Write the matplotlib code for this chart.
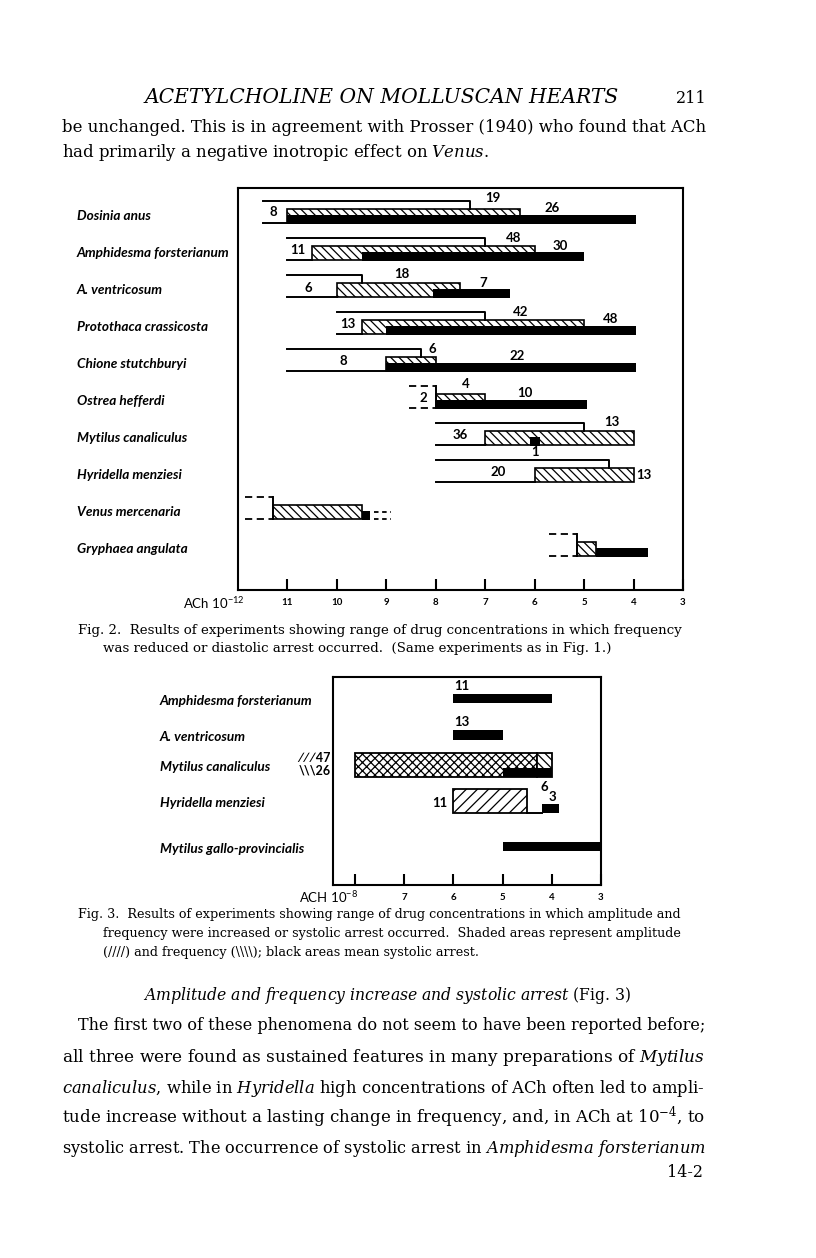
import matplotlib
matplotlib.use('Agg')
import matplotlib.pyplot as plt
from matplotlib.transforms import blended_transform_factory as blend

plt.rcParams['mathtext.fontset'] = 'custom'
plt.rcParams['mathtext.rm'] = 'DejaVu Serif'
plt.rcParams['mathtext.it'] = 'DejaVu Serif:italic'
plt.rcParams['hatch.linewidth'] = 0.9

SERIF = 'DejaVu Serif'
SANS = 'Lato'

# --- Fig. 2 : range of ACh (-log10 M), frequency reduced / diastolic arrest ---
species2 = ['Dosinia anus', 'Amphidesma forsterianum', 'A. ventricosum',
            'Protothaca crassicosta', 'Chione stutchburyi', 'Ostrea hefferdi',
            'Mytilus canaliculus', 'Hyridella menziesi', 'Venus mercenaria',
            'Gryphaea angulata']
tested_from2 = [11.5, 11.0, 11.0, 10.0, 11.0, 8.55, 8.0, 8.0, 11.85, 5.72]
dashed2 = [False, False, False, False, False, True, False, False, True, True]
freq_top2 = [7.3, 7.0, 9.5, 7.0, 8.3, None, 5.0, 4.5, None, None]
hatch2 = [(11.0, 6.3), (10.5, 6.0), (10.0, 7.5), (9.5, 5.0), (9.0, 8.0),
          (8.0, 7.0), (7.0, 4.0), (6.0, 4.0), (11.3, 9.5), (5.15, 4.75)]
black2 = [(11.0, 3.95), (9.5, 5.0), (8.05, 6.5), (9.0, 3.95), (9.0, 3.95),
          (8.0, 4.95), (6.1, 5.9), None, (9.5, 9.33), (4.75, 3.7)]
tail2 = [None, None, None, None, None, None, None, None, (9.25, 8.9), None]
counts2 = [['8', '19', '26'], ['11', '48', '30'], ['6', '18', '7'],
           ['13', '42', '48'], ['8', '6', '22'], ['2', '4', '10'],
           ['36', '13', '1'], ['20', '13'], [], []]
# where each count is written: (x in -log10 units, vertical offset in px)
count_pos2 = [[(11.29, -4), (6.84, -18), (5.64, -8)],
              [(10.79, -3), (6.43, -15), (5.48, -7)],
              [(10.58, -2), (8.68, -16), (7.04, -7)],
              [(9.77, -3), (6.29, -15), (4.47, -8)],
              [(9.87, -3), (8.07, -15), (6.35, -8)],
              [(8.26, -3), (7.40, -17), (6.19, -8)],
              [(7.51, -3), (4.43, -16), (5.99, 14)],
              [(6.74, -3), (3.80, 0)], [], []]
ticks2 = list(range(11, 2, -1))

# --- Fig. 3 : amplitude / frequency increase, systolic arrest ---
species3 = ['Amphidesma forsterianum', 'A. ventricosum', 'Mytilus canaliculus',
            'Hyridella menziesi', 'Mytilus gallo-provincialis']
both3 = [None, None, (8.0, 4.3), None, None]      # amplitude + frequency
freq3 = [None, None, (4.3, 4.0), None, None]      # frequency only
ampl3 = [None, None, None, (6.0, 4.5), None]      # amplitude only
arrest3 = [(6.0, 4.0), (6.0, 5.0), (5.0, 4.0), (4.2, 3.85), (5.0, 3.0)]
link3 = [None, None, None, (4.5, 4.2), None]
counts3 = [['11'], ['13'], [], ['11', '6', '3'], []]
count_pos3 = [[(5.84, -13)], [(5.84, -13)], [],
              [(6.28, 2), (4.15, -14), (3.98, -4)], []]
side3 = ['\u2215\u2215\u221547', '\\\\\\26']
ticks3 = list(range(8, 2, -1))

fig = plt.figure(figsize=(8.16, 12.58), dpi=100)
page = fig.add_axes([0, 0, 1, 1])
page.set_xlim(0, 816)
page.set_ylim(1258, 0)
page.axis('off')
renderer = fig.canvas.get_renderer()


def it(s):
    # *words* -> italic (mathtext)
    parts = s.split('*')
    out = ''
    for k, p in enumerate(parts):
        if k % 2 and p:
            out += r'$\mathit{' + p.replace(' ', r'\ ') + '}$'
        else:
            out += p
    return out


def line(s, x0, y, x1=None, size=12, **kw):
    t = page.text(x0, y, it(s), fontsize=size, va='baseline', ha='left',
                  family=SERIF, **kw)
    if x1 is not None:
        w = t.get_window_extent(renderer).width
        t.set_fontsize(size * (x1 - x0) / w)
    return t.get_fontsize()


# page text
line('ACETYLCHOLINE ON MOLLUSCAN HEARTS', 145, 103, 617, fontstyle='italic')
page.text(707, 103, '211', fontsize=11.5, ha='right', va='baseline', family=SERIF)
fs = line('be unchanged. This is in agreement with Prosser (1940) who found that ACh', 62, 132, 703)
line('had primarily a negative inotropic effect on *Venus*.', 62, 157, size=fs)

fc = line('Fig. 2.  Results of experiments showing range of drug concentrations in which frequency', 78, 634, 683)
line('was reduced or diastolic arrest occurred.  (Same experiments as in Fig. 1.)', 103, 652, size=fc)
fc = line('Fig. 3.  Results of experiments showing range of drug concentrations in which amplitude and', 78, 918, 683)
line('frequency were increased or systolic arrest occurred.  Shaded areas represent amplitude', 103, 937, 683)
line('(////) and frequency (\\\\\\\\); black areas mean systolic arrest.', 103, 956, size=fc)

line('*Amplitude and frequency increase and systolic arrest* (Fig. 3)', 143, 1000, 630)
line('The first two of these phenomena do not seem to have been reported before;', 78, 1030, 703)
line('all three were found as sustained features in many preparations of *Mytilus*', 62, 1062, 703)
line('*canaliculus*, while in *Hyridella* high concentrations of ACh often led to ampli-', 62, 1093, 703)
line(r'tude increase without a lasting change in frequency, and, in ACh at 10$^{\mathregular{-4}}$, to', 62, 1123, 703)
line('systolic arrest. The occurrence of systolic arrest in *Amphidesma forsterianum*', 62, 1153, 703)
page.text(703, 1177, '14-2', fontsize=11.5, ha='right', va='baseline', family=SERIF)

# ---------------- Fig. 2 ----------------
ax2 = fig.add_axes([238 / 816, 1 - 590 / 1258, 445 / 816, 402 / 1258])
ROW2 = 37.0          # px per row
H = 0.2              # half bar height (rows)
TOP = 0.4            # upper line above row centre
ax2.set_xlim(12, 3)
ax2.set_ylim((590 - 216) / ROW2, (188 - 216) / ROW2)
DASH = (0, (4, 2.5))

for i, name in enumerate(species2):
    y = i
    hs, he = hatch2[i]
    ax2.barh(y, hs - he, left=he, height=2 * H, color='white', edgecolor='black',
             hatch='\\\\\\\\', lw=1.2, zorder=2)
    if black2[i]:
        bs, be = black2[i]
        ax2.barh(y + H / 2, bs - be, left=be, height=H + 0.05, color='black', lw=0, zorder=3)
    s0 = tested_from2[i]
    if dashed2[i]:
        ax2.plot([s0, hs], [y - TOP, y - TOP], color='k', lw=1.3, ls=DASH)
        ax2.plot([s0, hs], [y + H, y + H], color='k', lw=1.3, ls=DASH)
        ax2.plot([hs, hs], [y - TOP, y + H], color='k', lw=1.4)
    else:
        t = freq_top2[i]
        ax2.plot([s0, t, t], [y - TOP, y - TOP, y - H], color='k', lw=1.4)
        ax2.plot([s0, hs], [y + H, y + H], color='k', lw=1.4)
    if tail2[i]:
        for yy in (y, y + H):
            ax2.plot(tail2[i], [yy, yy], color='k', lw=1.3, ls=(0, (2.5, 2)))
    for txt, (x, dy) in zip(counts2[i], count_pos2[i]):
        ax2.text(x, y + dy / ROW2, txt, ha='center', va='center', fontsize=9.5,
                 family=SANS, weight='bold', zorder=4)
    ax2.text(77, y, name, transform=blend(page.transData, ax2.transData),
             ha='left', va='center', fontsize=9.8, family=SANS,
             fontstyle='italic', weight='bold')

ax2.set_xticks(ticks2)
ax2.set_xticklabels([str(v) for v in ticks2])
ax2.set_yticks([])
ax2.tick_params(axis='x', direction='in', length=8, width=1.5, pad=6)
for lab in ax2.get_xticklabels():
    lab.set_family(SANS)
    lab.set_weight('bold')
    lab.set_fontsize(7)
for sp in ax2.spines.values():
    sp.set_linewidth(1.5)
ax2.text(11.86, -13 / 402, r'ACh 10$^{\mathregular{-12}}$',
         transform=blend(ax2.transData, ax2.transAxes), ha='right', va='center',
         fontsize=9.5, family=SANS)

# ---------------- Fig. 3 ----------------
ax3 = fig.add_axes([333 / 816, 1 - 885 / 1258, 268 / 816, 208 / 1258])
ROW3 = 36.5
ypos3 = [0, 1.0, 1.82, 2.81, 4.05]
TH = 0.33
ax3.set_xlim(8.45, 3.0)
ax3.set_ylim((885 - 698.5) / ROW3, (677 - 698.5) / ROW3)

for i, y in enumerate(ypos3):
    shaded = False
    for rng, pat in ((both3[i], 'xxxx'), (freq3[i], '\\\\\\\\'), (ampl3[i], '///')):
        if rng:
            a, b = rng
            ax3.barh(y, a - b, left=b, height=2 * TH, color='white', edgecolor='black',
                     hatch=pat, lw=1.3, zorder=2)
            shaded = True
    a, b = arrest3[i]
    yc = y + TH - 0.125 if shaded else y
    ax3.barh(yc, a - b, left=b, height=0.25, color='black', lw=0, zorder=3)
    if link3[i]:
        ax3.plot(link3[i], [y + TH, y + TH], color='k', lw=1.4)
    for txt, (x, dy) in zip(counts3[i], count_pos3[i]):
        ax3.text(x, y + dy / ROW3, txt, ha='center', va='center', fontsize=9.5,
                 family=SANS, weight='bold', zorder=4)
    ax3.text(160, y + 0.06, species3[i], transform=blend(page.transData, ax3.transData),
             ha='left', va='center', fontsize=9.8, family=SANS,
             fontstyle='italic', weight='bold')

tr = blend(page.transData, ax3.transData)
ax3.text(331, ypos3[2] - 0.2, side3[0], transform=tr, ha='right', va='center',
         fontsize=9, family=SANS, weight='bold')
ax3.text(331, ypos3[2] + 0.15, side3[1], transform=tr, ha='right', va='center',
         fontsize=9, family=SANS, weight='bold')

ax3.set_xticks(ticks3)
ax3.set_xticklabels([''] + [str(v) for v in ticks3[1:]])
ax3.set_yticks([])
ax3.tick_params(axis='x', direction='in', length=8, width=1.5, pad=6)
for lab in ax3.get_xticklabels():
    lab.set_family(SANS)
    lab.set_weight('bold')
    lab.set_fontsize(7)
for sp in ax3.spines.values():
    sp.set_linewidth(1.5)
ax3.text(7.93, -12 / 208, r'ACH 10$^{\mathregular{-8}}$',
         transform=blend(ax3.transData, ax3.transAxes), ha='right', va='center',
         fontsize=9.5, family=SANS)

fig.savefig('out.png', dpi=100)
